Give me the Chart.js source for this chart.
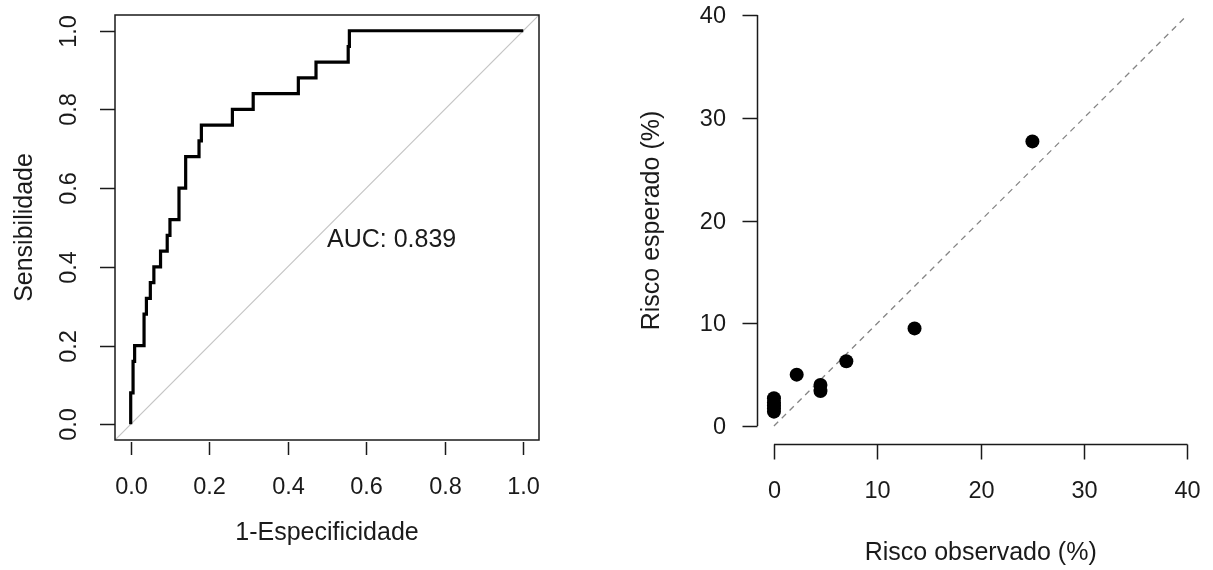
<!DOCTYPE html>
<html>
<head>
<meta charset="utf-8">
<script src="https://cdn.jsdelivr.net/npm/chart.js@4.4.1/dist/chart.umd.min.js"></script>
<style>
html,body{margin:0;padding:0;background:#fff;}
#wrap{position:relative;width:1213px;height:570px;}
#roc{position:absolute;left:0;top:0;}
#cal{position:absolute;left:600px;top:0;}
</style>
</head>
<body>
<div id="wrap">
<canvas id="roc" width="600" height="570"></canvas>
<canvas id="cal" width="613" height="570"></canvas>
</div>
<script>
// ROC curve corners (1-specificity, sensitivity)
const rocFpr = [0, 0, 0.006, 0.01, 0.034, 0.04, 0.05, 0.059, 0.076, 0.093, 0.10, 0.123, 0.14, 0.174, 0.18, 0.259, 0.312, 0.427, 0.472, 0.554, 0.557, 1.0];
const rocTpr = [0, 0.08, 0.16, 0.20, 0.28, 0.32, 0.36, 0.40, 0.44, 0.48, 0.52, 0.60, 0.68, 0.72, 0.76, 0.80, 0.84, 0.88, 0.92, 0.96, 1.0, 1.0];
const rocTicks = [0, 0.2, 0.4, 0.6, 0.8, 1.0];
const aucText = "AUC: 0.839";

// calibration plot: observed vs expected risk (%)
const obsRisk = [0, 0, 0, 0, 0, 2.2, 4.5, 4.5, 7.0, 13.6, 25.0];
const expRisk = [1.4, 1.7, 2.0, 2.3, 2.7, 5.0, 4.0, 3.4, 6.3, 9.5, 27.7];
const calTicks = [0, 10, 20, 30, 40];

const TICK_FONT = '23.5px "Liberation Sans", Arial, sans-serif';
const LAB_FONT = '25px "Liberation Sans", Arial, sans-serif';
const INK = '#1a1a1a';

function rotText(ctx, txt, x, y) {
  ctx.save();
  ctx.translate(x, y);
  ctx.rotate(-Math.PI / 2);
  ctx.fillText(txt, 0, 0);
  ctx.restore();
}

// R-like box + axes for the ROC panel
const rocAxes = {
  id: 'rocAxes',
  afterDraw(chart) {
    const ctx = chart.ctx, ca = chart.chartArea;
    const xs = chart.scales.x, ys = chart.scales.y;
    ctx.save();
    ctx.strokeStyle = INK;
    ctx.lineWidth = 1.5;
    ctx.strokeRect(ca.left, ca.top, ca.right - ca.left, ca.bottom - ca.top);
    ctx.fillStyle = INK;
    ctx.font = TICK_FONT;
    ctx.textAlign = 'center';
    ctx.textBaseline = 'middle';
    rocTicks.forEach(v => {
      const px = Math.round(xs.getPixelForValue(v)) + 0.5;
      ctx.beginPath();
      ctx.moveTo(px, ca.bottom + 2);
      ctx.lineTo(px, ca.bottom + 15);
      ctx.stroke();
      ctx.fillText(v.toFixed(1), px, ca.bottom + 48);
      const py = Math.round(ys.getPixelForValue(v)) + 0.5;
      ctx.beginPath();
      ctx.moveTo(ca.left - 15, py);
      ctx.lineTo(ca.left, py);
      ctx.stroke();
      rotText(ctx, v.toFixed(1), ca.left - 45, py);
    });
    ctx.font = LAB_FONT;
    ctx.fillText('1-Especificidade', (ca.left + ca.right) / 2, ca.bottom + 93);
    rotText(ctx, 'Sensibilidade', ca.left - 90, (ca.top + ca.bottom) / 2);
    ctx.textAlign = 'left';
    ctx.fillText(aucText, xs.getPixelForValue(0.5), ys.getPixelForValue(0.468));
    ctx.restore();
  }
};

// R-like detached axes for the calibration panel
const calAxes = {
  id: 'calAxes',
  afterDraw(chart) {
    const ctx = chart.ctx, ca = chart.chartArea;
    const xs = chart.scales.x, ys = chart.scales.y;
    ctx.save();
    ctx.strokeStyle = INK;
    ctx.lineWidth = 1.5;
    ctx.fillStyle = INK;
    ctx.font = TICK_FONT;
    // x axis
    const x0 = xs.getPixelForValue(calTicks[0]), x1 = xs.getPixelForValue(calTicks[calTicks.length - 1]);
    const by = ca.bottom + 0.5;
    ctx.beginPath(); ctx.moveTo(x0, by); ctx.lineTo(x1, by); ctx.stroke();
    ctx.textAlign = 'center';
    ctx.textBaseline = 'middle';
    calTicks.forEach(v => {
      const px = Math.round(xs.getPixelForValue(v)) + 0.5;
      ctx.beginPath(); ctx.moveTo(px, by); ctx.lineTo(px, by + 15); ctx.stroke();
      ctx.fillText(String(v), px, ca.bottom + 48);
    });
    ctx.font = LAB_FONT;
    ctx.fillText('Risco observado (%)', (x0 + x1) / 2, ca.bottom + 109);
    // y axis
    const y0 = ys.getPixelForValue(calTicks[0]), y1 = ys.getPixelForValue(calTicks[calTicks.length - 1]);
    const lx = ca.left + 0.5;
    ctx.beginPath(); ctx.moveTo(lx, y0); ctx.lineTo(lx, y1); ctx.stroke();
    ctx.font = TICK_FONT;
    ctx.textAlign = 'right';
    calTicks.forEach(v => {
      const py = Math.round(ys.getPixelForValue(v)) + 0.5;
      ctx.beginPath(); ctx.moveTo(lx - 15, py); ctx.lineTo(lx, py); ctx.stroke();
      ctx.fillText(String(v), ca.left - 31, py + 1);
    });
    ctx.font = LAB_FONT;
    ctx.textAlign = 'center';
    rotText(ctx, 'Risco esperado (%)', ca.left - 105, (y0 + y1) / 2);
    ctx.restore();
  }
};

Chart.defaults.animation = false;

new Chart(document.getElementById('roc'), {
  type: 'line',
  data: {
    datasets: [{
      data: rocFpr.map((f, i) => ({x: f, y: rocTpr[i]})),
      stepped: true,
      borderColor: '#000',
      borderWidth: 3.2,
      pointRadius: 0,
      fill: false
    }, {
      data: [{x: -0.04, y: -0.04}, {x: 1.04, y: 1.04}],
      borderColor: '#c4c4c4',
      borderWidth: 1.2,
      pointRadius: 0,
      fill: false
    }]
  },
  options: {
    responsive: false,
    devicePixelRatio: 1,
    layout: {autoPadding: false, padding: {left: 115, top: 15, right: 61, bottom: 130}},
    scales: {
      x: {type: 'linear', min: -0.04, max: 1.04, display: false},
      y: {type: 'linear', min: -0.04, max: 1.04, display: false}
    },
    plugins: {legend: {display: false}, tooltip: {enabled: false}}
  },
  plugins: [rocAxes]
});

new Chart(document.getElementById('cal'), {
  type: 'scatter',
  data: {
    datasets: [{
      data: obsRisk.map((o, i) => ({x: o, y: expRisk[i]})),
      backgroundColor: '#000',
      borderWidth: 0,
      pointRadius: 7
    }, {
      type: 'line',
      data: [{x: 0, y: 0}, {x: 40, y: 40}],
      borderColor: '#858585',
      borderDash: [6, 5],
      borderWidth: 1.3,
      pointRadius: 0,
      fill: false
    }]
  },
  options: {
    responsive: false,
    devicePixelRatio: 1,
    layout: {autoPadding: false, padding: {left: 157, top: 0, right: 9, bottom: 126}},
    scales: {
      x: {type: 'linear', min: -1.64, max: 41.6, display: false},
      y: {type: 'linear', min: -1.75, max: 41.46, display: false}
    },
    plugins: {legend: {display: false}, tooltip: {enabled: false}}
  },
  plugins: [calAxes]
});
</script>
</body>
</html>
